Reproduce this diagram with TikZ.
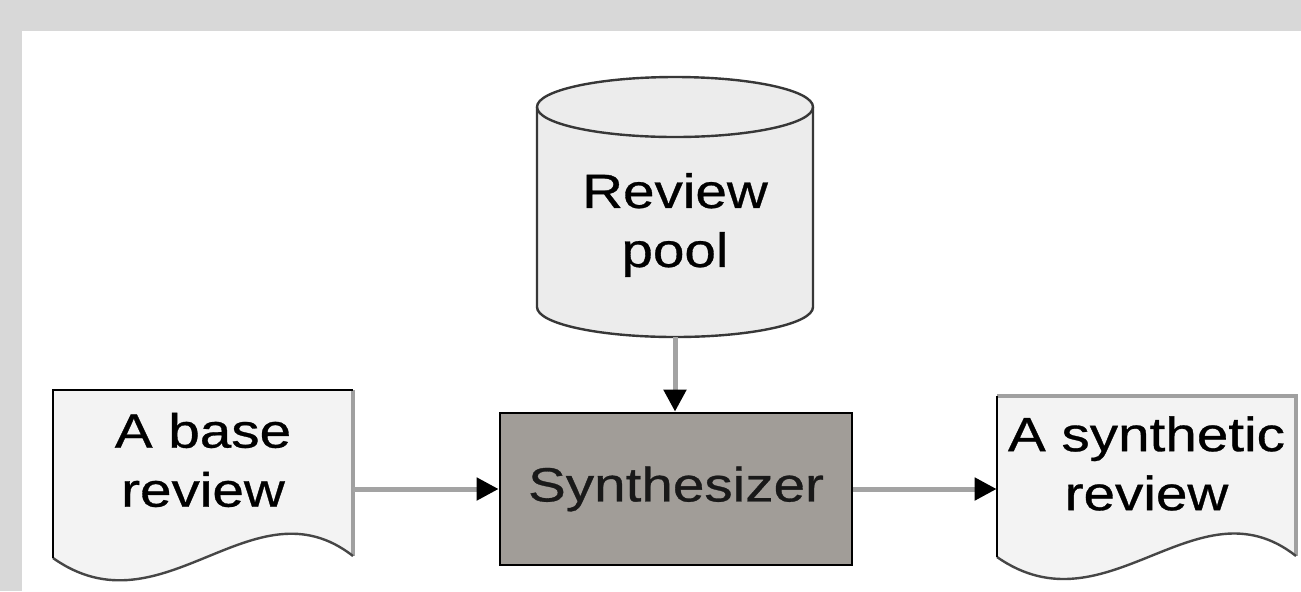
\documentclass[tikz,border=0pt]{standalone}
\usepackage{fontspec}
\setmainfont{Liberation Sans}
\newfontfamily\labelfont{Liberation Sans}[FakeBold=0.6]
\usetikzlibrary{arrows.meta}

\definecolor{framegray}{RGB}{216,216,216}
\definecolor{poolfill}{RGB}{236,236,236}
\definecolor{docfill}{RGB}{243,243,243}
\definecolor{synthfill}{RGB}{161,157,152}
\definecolor{flowgray}{RGB}{163,163,163}
\definecolor{edgegray}{RGB}{160,160,160}
\definecolor{wavegray}{RGB}{70,70,70}
\definecolor{cylgray}{RGB}{55,55,55}

% slightly widened lettering
\newcommand\wide[1]{\scalebox{1.18}[1]{#1}}

\begin{document}
\begin{tikzpicture}[x=0.5pt,y=0.5pt,
  holder/.style={rectangle,inner sep=0pt,draw=none},
  txt/.style={inner sep=0pt,align=center,font=\labelfont\fontsize{24}{29.5}\selectfont},
  synthbox/.style={rectangle,inner sep=0pt,fill=synthfill,draw=black,line width=1.4pt,
    minimum width=176pt,minimum height=76pt,text=black!90,
    font=\labelfont\fontsize{24}{29.5}\selectfont},
  flow/.style={draw=flowgray,line width=2.5pt,-{Triangle[length=11pt,width=11pt,color=black]}},
  cyledge/.style={draw=cylgray,line width=1.2pt},
  docedge/.style={draw=black,line width=1.3pt},
  docside/.style={draw=edgegray,line width=2pt},
  docwave/.style={draw=wavegray,line width=1.2pt}]

% frame
\fill[framegray] (0,0) rectangle (1301,-591);
\fill[white] (22,-31) rectangle (1301,-591);
\useasboundingbox (0,0) rectangle (1301,-591);

% ---- review pool (cylinder)
\node[holder,minimum width=138pt,minimum height=130pt] (pool) at (675,-207) {};
\fill[poolfill] (537,-107) -- (537,-307)
  arc[start angle=180,end angle=360,x radius=69pt,y radius=15pt]
  -- (813,-107)
  arc[start angle=0,end angle=180,x radius=69pt,y radius=15pt] -- cycle;
\draw[cyledge] (537,-107) -- (537,-307)
  arc[start angle=180,end angle=360,x radius=69pt,y radius=15pt] -- (813,-107);
\draw[cyledge] (675,-107) ellipse[x radius=69pt,y radius=15pt];
\node[txt] (pooltxt) at (675,-225) {\wide{Review}\\\wide{pool}};

% ---- base review (document)
\node[holder,minimum width=150pt,minimum height=84pt] (base) at (203,-474) {};
\begin{scope}[shift={(53,-390)}]
  \fill[docfill] (0,0) -- (300,0) -- (300,-166)
    .. controls (200,-88) and (110,-246) .. (0,-168) -- cycle;
  \draw[docside] (300,0) -- (300,-166);
  \draw[docwave] (300,-166) .. controls (200,-88) and (110,-246) .. (0,-168);
  \draw[docedge] (0,-168) -- (0,0) -- (300,0);
\end{scope}
\node[txt] (basetxt) at (203,-460) {\wide{A base}\\\wide{review}};

% ---- synthesizer
\node[synthbox] (synth) at (676,-489) {\wide{Synthesizer}};

% ---- synthetic review (document)
\node[holder,minimum width=149.5pt,minimum height=80.5pt] (result) at (1146.5,-476.5) {};
\begin{scope}[shift={(997,-396)}]
  \fill[docfill] (0,0) -- (299,0) -- (299,-160)
    .. controls (200,-82) and (110,-238) .. (0,-161) -- cycle;
  \draw[docside] (0,0) -- (299,0) -- (299,-160);
  \draw[docwave] (299,-160) .. controls (200,-82) and (110,-238) .. (0,-161);
  \draw[docedge] (0,-161) -- (0,0);
\end{scope}
\node[txt] (resulttxt) at (1146.5,-463.5) {\wide{A synthetic}\\\wide{review}};

% ---- flows
\draw[flow] (pool.south) -- (pool.south |- synth.north);
\draw[flow] (base.east |- synth.west) -- (synth.west);
\draw[flow] (synth.east) -- (synth.east -| result.west);
\end{tikzpicture}
\end{document}
